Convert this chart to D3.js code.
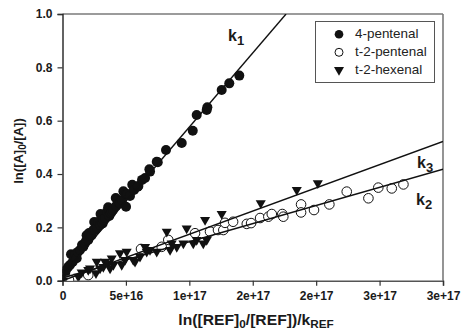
<!DOCTYPE html>
<html>
<head>
<meta charset="utf-8">
<script src="https://cdn.jsdelivr.net/npm/d3@7"></script>
<style>
  html, body { margin: 0; padding: 0; background: #fff; }
  svg { display: block; font-family: Arial, "Liberation Sans", sans-serif; }
</style>
</head>
<body>
<div id="chart"></div>
<script>
// 4-pentenal (filled circles)
const pentenal4X = [0.0, 0.2, 0.28, 0.46, 0.59, 0.67, 0.80, 0.91, 1.0, 1.12, 1.22, 1.38, 1.54, 1.64, 1.77, 1.85, 1.9,
  2.03, 2.09, 2.17, 2.30, 2.43, 2.5, 2.56, 2.72, 2.80, 2.96, 3.0, 3.17, 3.22, 3.35, 3.51, 3.6, 3.69, 3.80, 3.88, 3.98,
  4.2, 4.22, 4.48, 4.53, 4.69, 4.8, 5.01, 5.01, 5.11, 5.32, 5.5, 5.64, 5.93, 5.98, 6.27, 6.51, 6.85, 6.90, 7.43, 7.51,
  8.16, 9.40, 10.27, 10.58, 11.37, 11.42, 12.55, 13.15, 13.94].map(v => v * 1e16);
const pentenal4Y = [0.003, 0.028, 0.040, 0.052, 0.059, 0.099, 0.070, 0.089, 0.10, 0.084, 0.108, 0.115, 0.134, 0.127, 0.140, 0.149, 0.17,
  0.153, 0.179, 0.168, 0.171, 0.190, 0.22, 0.190, 0.198, 0.220, 0.209, 0.25, 0.215, 0.230, 0.235, 0.258, 0.275, 0.243, 0.253, 0.259, 0.265,
  0.31, 0.280, 0.292, 0.290, 0.303, 0.335, 0.324, 0.277, 0.325, 0.318, 0.36, 0.340, 0.352, 0.355, 0.378, 0.385, 0.418, 0.409, 0.446, 0.444,
  0.490, 0.516, 0.562, 0.621, 0.640, 0.650, 0.715, 0.740, 0.769];

// t-2-pentenal (open circles)
const pentenalT2X = [0.51, 2.03, 6.19, 7.82, 8.34, 10.45, 11.63, 12.26, 12.68, 12.81, 13.45, 14.53, 14.87, 15.58,
  16.23, 16.50, 17.33, 17.41, 18.81, 18.81, 19.83, 21.04, 22.41, 24.12, 24.90, 25.96, 26.88].map(v => v * 1e16);
const pentenalT2Y = [0.003, 0.021, 0.119, 0.127, 0.153, 0.178, 0.184, 0.190, 0.190, 0.217, 0.221, 0.213, 0.216, 0.235,
  0.240, 0.250, 0.250, 0.240, 0.286, 0.256, 0.265, 0.286, 0.334, 0.309, 0.349, 0.346, 0.361];

// t-2-hexenal (down triangles)
const hexenalT2X = [0.06, 1.25, 1.51, 2.03, 2.17, 2.64, 2.70, 2.96, 3.22, 3.35, 3.61, 3.75, 3.88, 4.01, 4.53, 4.67,
  4.93, 5.06, 5.58, 5.72, 6.11, 6.51, 6.64, 6.90, 7.43, 8.22, 8.48, 8.61, 9.01, 9.53, 9.79, 10.31, 10.58, 11.10,
  11.24, 11.37, 12.55, 15.63, 18.47, 20.13].map(v => v * 1e16);
const hexenalT2Y = [0.0, 0.015, 0.031, 0.040, 0.046, 0.028, 0.071, 0.046, 0.052, 0.071, 0.065, 0.046, 0.084, 0.059, 0.103, 0.059,
  0.078, 0.109, 0.078, 0.071, 0.090, 0.127, 0.109, 0.115, 0.109, 0.184, 0.115, 0.140, 0.127, 0.140, 0.196, 0.140, 0.153, 0.140,
  0.228, 0.153, 0.250, 0.291, 0.340, 0.366];

// regression lines
const lineNames = ['k1', 'k3', 'k2'];
const lineSlopes = [5.56e-18, 1.74e-18, 1.36e-18];
const lineIntercepts = [0.02, 0.0, 0.01];

const legendLabels = ['4-pentenal', 't-2-pentenal', 't-2-hexenal'];
const xTicks = [0, 0.5e17, 1e17, 1.5e17, 2e17, 2.5e17, 3e17];
const yTicks = [0, 0.2, 0.4, 0.6, 0.8, 1.0];

const width = 461, height = 331;
const plotLeft = 62.5, plotRight = 443, plotTop = 14, plotBottom = 280.7;

const svg = d3.select('#chart').append('svg')
  .attr('width', width)
  .attr('height', height);

const x = d3.scaleLinear().domain([0, 3e17]).range([plotLeft, plotRight]);
const y = d3.scaleLinear().domain([0, 1]).range([plotBottom, plotTop]);

svg.append('clipPath').attr('id', 'plot-clip')
  .append('rect')
  .attr('x', plotLeft).attr('y', plotTop)
  .attr('width', plotRight - plotLeft).attr('height', plotBottom - plotTop);

// frame: top and right border in gray
svg.append('line').attr('x1', plotLeft).attr('x2', plotRight).attr('y1', plotTop).attr('y2', plotTop)
  .attr('stroke', '#7a7a7a').attr('stroke-width', 1.6);
svg.append('line').attr('x1', plotRight).attr('x2', plotRight).attr('y1', plotTop).attr('y2', plotBottom)
  .attr('stroke', '#7a7a7a').attr('stroke-width', 1.6);

const tickFont = g => g.selectAll('.tick text').attr('fill', '#1a1a1a')
  .style('font-size', '12px').style('font-weight', 'bold')
  .style('font-family', 'Arial, "Liberation Sans", sans-serif');

// X axis
svg.append('g')
  .attr('transform', `translate(0,${plotBottom})`)
  .call(d3.axisBottom(x).tickValues(xTicks).tickSize(5).tickPadding(6)
    .tickFormat(d => d === 0 ? '0' : d.toExponential(0)))
  .call(g => g.select('.domain').attr('stroke', '#555').attr('stroke-width', 1.5))
  .call(g => g.selectAll('.tick line').attr('stroke', '#333').attr('stroke-width', 1.2))
  .call(tickFont);

// Y axis
svg.append('g')
  .attr('transform', `translate(${plotLeft},0)`)
  .call(d3.axisLeft(y).tickValues(yTicks).tickSize(5).tickPadding(5).tickFormat(d3.format('.1f')))
  .call(g => g.select('.domain').attr('stroke', '#222').attr('stroke-width', 1.4))
  .call(g => g.selectAll('.tick line').attr('stroke', '#333').attr('stroke-width', 1.2))
  .call(tickFont);

const plot = svg.append('g').attr('clip-path', 'url(#plot-clip)');

// 4-pentenal
plot.append('g').selectAll('circle')
  .data(d3.zip(pentenal4X, pentenal4Y))
  .join('circle')
  .attr('cx', d => x(d[0]))
  .attr('cy', d => y(d[1]))
  .attr('r', 5)
  .attr('fill', '#111');

// t-2-pentenal
plot.append('g').selectAll('circle')
  .data(d3.zip(pentenalT2X, pentenalT2Y))
  .join('circle')
  .attr('cx', d => x(d[0]))
  .attr('cy', d => y(d[1]))
  .attr('r', 4.8)
  .attr('fill', '#fff')
  .attr('stroke', '#111')
  .attr('stroke-width', 1);

// t-2-hexenal
const tri = d3.symbol().type(d3.symbolTriangle).size(44);
plot.append('g').selectAll('path')
  .data(d3.zip(hexenalT2X, hexenalT2Y))
  .join('path')
  .attr('d', tri)
  .attr('transform', d => `translate(${x(d[0])},${y(d[1])}) rotate(180)`)
  .attr('fill', '#111');

// regression lines
lineNames.forEach((name, i) => {
  const xEnd = Math.min(3e17, (1 - lineIntercepts[i]) / lineSlopes[i]);
  plot.append('line')
    .attr('x1', x(0)).attr('y1', y(lineIntercepts[i]))
    .attr('x2', x(xEnd)).attr('y2', y(lineIntercepts[i] + lineSlopes[i] * xEnd))
    .attr('stroke', '#111')
    .attr('stroke-width', 1.4);
});

// line labels
const kLabelPos = { k1: [228, 41], k3: [417, 168], k2: [416, 205] };
lineNames.forEach(name => {
  const t = svg.append('text')
    .attr('x', kLabelPos[name][0])
    .attr('y', kLabelPos[name][1])
    .attr('fill', '#1a1a1a')
    .style('font-size', '16px')
    .style('font-weight', 'bold');
  t.append('tspan').text('k');
  t.append('tspan').attr('dy', 4).style('font-size', '13px').text(name.slice(1));
});

// axis titles
const xTitle = svg.append('text')
  .attr('transform', 'translate(256,325) scale(1.12,1)')
  .attr('text-anchor', 'middle')
  .attr('fill', '#1a1a1a')
  .style('font-size', '14px').style('font-weight', 'bold');
xTitle.append('tspan').text('ln([REF]');
xTitle.append('tspan').attr('dy', 3).style('font-size', '10.5px').text('0');
xTitle.append('tspan').attr('dy', -3).text('/[REF])/k');
xTitle.append('tspan').attr('dy', 3).style('font-size', '10.5px').text('REF');

const yTitle = svg.append('text')
  .attr('transform', 'translate(23,151) rotate(-90)')
  .attr('text-anchor', 'middle')
  .attr('fill', '#1a1a1a')
  .style('font-size', '13px').style('font-weight', 'bold');
yTitle.append('tspan').text('ln([A]');
yTitle.append('tspan').attr('dy', 3).style('font-size', '10px').text('0');
yTitle.append('tspan').attr('dy', -3).text('/[A])');

// legend
const legend = svg.append('g');
legend.append('rect')
  .attr('x', 315.5).attr('y', 21.5)
  .attr('width', 119).attr('height', 61)
  .attr('fill', '#fff')
  .attr('stroke', '#555')
  .attr('stroke-width', 1);

const legendY = [34.3, 52.3, 70];
legendLabels.forEach((label, i) => {
  const cy = legendY[i];
  if (i === 0) {
    legend.append('circle').attr('cx', 339).attr('cy', cy).attr('r', 4.3).attr('fill', '#111');
  } else if (i === 1) {
    legend.append('circle').attr('cx', 339).attr('cy', cy).attr('r', 4)
      .attr('fill', '#fff').attr('stroke', '#111').attr('stroke-width', 1);
  } else {
    legend.append('path').attr('d', tri)
      .attr('transform', `translate(339,${cy}) rotate(180)`).attr('fill', '#111');
  }
  legend.append('text')
    .attr('transform', `translate(355,${cy + 4}) scale(1.12,1)`)
    .attr('fill', '#222')
    .style('font-size', '12px')
    .text(label);
});
</script>
</body>
</html>
